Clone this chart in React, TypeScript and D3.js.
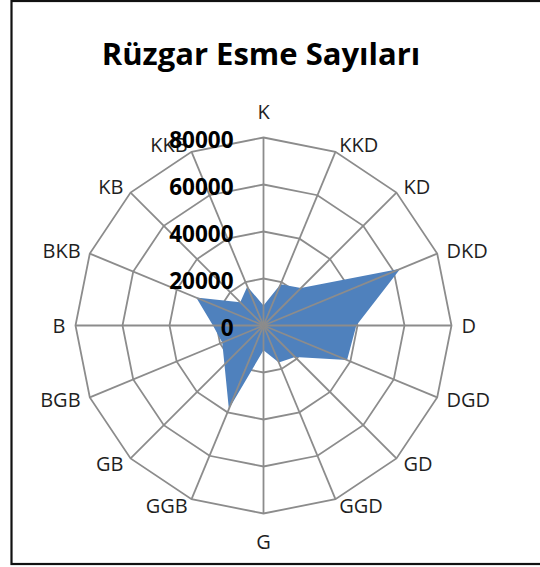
import React from 'react';
import * as d3 from 'd3';

const categories = ['K', 'KKD', 'KD', 'DKD', 'D', 'DGD', 'GD', 'GGD', 'G', 'GGB', 'GB', 'BGB', 'B', 'BKB', 'KB', 'KKB'];
const values = [8500, 19000, 22500, 63000, 39500, 38500, 19000, 17000, 10500, 38500, 23500, 19000, 21500, 31000, 14000, 18000];
const ticks = [0, 20000, 40000, 60000, 80000];
const title = 'Rüzgar Esme Sayıları';

export default function App() {
  const W = 540, H = 567;
  const cx = 263.5, cy = 325.5, R = 188;
  const r = d3.scaleLinear().domain([0, 80000]).range([0, R]);
  const n = categories.length;
  const ang = (i: number) => (i * 2 * Math.PI) / n;
  const pt = (i: number, v: number): [number, number] => [
    cx + r(v) * Math.sin(ang(i)),
    cy - r(v) * Math.cos(ang(i)),
  ];
  const radial = d3
    .lineRadial<number>()
    .angle((_, i) => ang(i))
    .radius((d) => r(d))
    .curve(d3.curveLinearClosed);

  const labelFs = 20;
  const tickFs = 22.5;

  return (
    <svg
      width={W}
      height={H}
      style={{ position: 'absolute', left: 0, top: 0, background: '#fff' }}
      fontFamily="'Open Sans', sans-serif"
    >
      <rect x={0} y={0} width={W} height={H} fill="#fff" />
      <rect x={11.5} y={1} width={W + 10} height={563} fill="none" stroke="#111" strokeWidth={2.2} />
      <text x={261} y={65} textAnchor="middle" fontSize={31} fontWeight="bold" fill="#000">
        {title}
      </text>
      {/* rings */}
      <g transform={`translate(${cx},${cy})`}>
        {ticks.slice(1).map((t) => (
          <path
            key={t}
            d={radial(categories.map(() => t)) || ''}
            fill="none"
            stroke="#8c8c8c"
            strokeWidth={1.8}
          />
        ))}
        <path d={radial(values) || ''} fill="#4F81BD" stroke="none" />
      </g>
      {/* spokes */}
      {categories.map((c, i) => {
        const [x, y] = pt(i, 80000);
        return <line key={c} x1={cx} y1={cy} x2={x} y2={y} stroke="#8c8c8c" strokeWidth={1.8} />;
      })}
      {/* category labels */}
      {categories.map((c, i) => {
        const [vx, vy] = pt(i, 80000);
        const ux = Math.sin(ang(i));
        const uy = -Math.cos(ang(i));
        let x = vx, yc = vy, anchor: 'start' | 'middle' | 'end' = 'middle';
        if (Math.abs(ux) < 0.01) {
          yc = vy + (uy < 0 ? -26 : 28);
        } else {
          x = vx + 10 * ux;
          yc = vy + 7.5 * uy;
          anchor = ux > 0 ? 'start' : 'end';
        }
        return (
          <text key={c} x={x} y={yc + labelFs * 0.357} textAnchor={anchor} fontSize={labelFs} fill="#1f1f1f">
            {c}
          </text>
        );
      })}
      {/* tick labels */}
      {ticks.map((t) => (
        <text
          key={t}
          x={cx - 30}
          y={cy - r(t) + 2.5 + tickFs * 0.357}
          textAnchor="end"
          fontSize={tickFs}
          fontWeight="bold"
          fill="#000"
        >
          {t}
        </text>
      ))}
    </svg>
  );
}
